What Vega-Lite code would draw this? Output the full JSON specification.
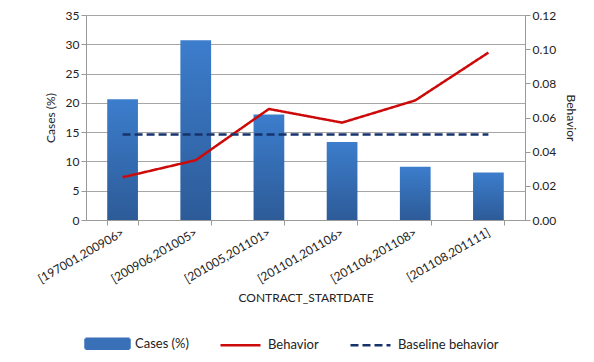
{
  "$schema": "https://vega.github.io/schema/vega-lite/v6.json",
  "width": 439,
  "height": 205,
  "autosize": {"type": "none"},
  "padding": {"left": 86, "top": 15, "right": 69, "bottom": 142},
  "background": "white",
  "config": {
    "font": "Lato",
    "view": {"stroke": null},
    "axis": {"labelFont": "Lato", "titleFont": "Lato", "labelColor": "#222", "titleColor": "#222", "labelFontSize": 12, "titleFontSize": 12, "titleFontWeight": "normal", "domainColor": "#9a9a9a", "tickColor": "#9a9a9a", "gridColor": "#a6a6a6"},
    "legend": {"labelFont": "Lato", "labelFontSize": 13, "labelColor": "#222"}
  },
  "data": {
    "values": [
      {"period": "[197001,200906>", "cases": 20.6, "Behavior": 0.025, "Baseline behavior": 0.05, "series": "Cases (%)"},
      {"period": "[200906,201005>", "cases": 30.7, "Behavior": 0.035, "Baseline behavior": 0.05, "series": "Cases (%)"},
      {"period": "[201005,201101>", "cases": 18.0, "Behavior": 0.065, "Baseline behavior": 0.05, "series": "Cases (%)"},
      {"period": "[201101,201106>", "cases": 13.3, "Behavior": 0.057, "Baseline behavior": 0.05, "series": "Cases (%)"},
      {"period": "[201106,201108>", "cases": 9.1, "Behavior": 0.070, "Baseline behavior": 0.05, "series": "Cases (%)"},
      {"period": "[201108,201111]", "cases": 8.1, "Behavior": 0.098, "Baseline behavior": 0.05, "series": "Cases (%)"}
    ]
  },
  "encoding": {
    "x": {
      "field": "period", "type": "nominal", "sort": null,
      "scale": {"paddingInner": 0.58, "paddingOuter": 0.29},
      "axis": {"title": "CONTRACT_STARTDATE", "labelAngle": -30, "labelAlign": "right", "labelBaseline": "middle", "labelPadding": 6, "tickBand": "extent", "tickSize": 5, "titlePadding": 8, "grid": false}
    }
  },
  "layer": [
    {
      "mark": {
        "type": "bar", "filled": false, "strokeWidth": 0,
        "fill": {"gradient": "linear", "x1": 0, "y1": 0, "x2": 0, "y2": 1, "stops": [{"offset": 0, "color": "#3c7dcc"}, {"offset": 1, "color": "#2d5b98"}]}
      },
      "encoding": {
        "y": {
          "field": "cases", "type": "quantitative",
          "scale": {"domain": [0, 35]},
          "axis": {"title": "Cases (%)", "values": [0, 5, 10, 15, 20, 25, 30, 35], "grid": true, "tickSize": 5, "titlePadding": 8}
        },
        "color": {
          "field": "series", "type": "nominal",
          "scale": {"domain": ["Cases (%)", "Behavior", "Baseline behavior"], "range": ["#3a70b8", "#cc0a0a", "#17336b"]},
          "legend": {
            "title": null, "orient": "bottom", "direction": "horizontal", "offset": 18,
            "symbolSize": 1600, "symbolStrokeWidth": 2.5, "columnPadding": 26, "labelOffset": 6,
            "encode": {
              "symbols": {
                "update": {
                  "shape": {"signal": "datum.value === 'Cases (%)' ? 'M-1.1,-0.25H1.1V0.25H-1.1Z' : 'stroke'"},
                  "fill": {"signal": "datum.value === 'Cases (%)' ? '#3a70b8' : 'transparent'"},
                  "stroke": {"signal": "datum.value === 'Cases (%)' ? 'transparent' : (datum.value === 'Behavior' ? '#cc0a0a' : '#17336b')"},
                  "strokeWidth": {"value": 2.5},
                  "strokeDash": {"signal": "datum.value === 'Baseline behavior' ? [8, 4] : [1, 0]"},
                  "opacity": {"value": 1}
                }
              }
            }
          }
        }
      }
    },
    {
      "transform": [{"fold": ["Behavior", "Baseline behavior"], "as": ["key", "value"]}],
      "mark": {"type": "line", "strokeWidth": 2.5},
      "encoding": {
        "y": {
          "field": "value", "type": "quantitative",
          "scale": {"domain": [0, 0.12]},
          "axis": {"title": "Behavior", "orient": "right", "values": [0, 0.02, 0.04, 0.06, 0.08, 0.1, 0.12], "format": ".2f", "grid": false, "tickSize": 5, "titleAngle": 90, "titlePadding": 8}
        },
        "color": {
          "field": "key", "type": "nominal",
          "scale": {"domain": ["Cases (%)", "Behavior", "Baseline behavior"], "range": ["#3a70b8", "#cc0a0a", "#17336b"]},
          "legend": {
            "title": null, "orient": "bottom", "direction": "horizontal", "offset": 18,
            "symbolSize": 1600, "symbolStrokeWidth": 2.5, "columnPadding": 26, "labelOffset": 6,
            "encode": {
              "symbols": {
                "update": {
                  "shape": {"signal": "datum.value === 'Cases (%)' ? 'M-1.1,-0.25H1.1V0.25H-1.1Z' : 'stroke'"},
                  "fill": {"signal": "datum.value === 'Cases (%)' ? '#3a70b8' : 'transparent'"},
                  "stroke": {"signal": "datum.value === 'Cases (%)' ? 'transparent' : (datum.value === 'Behavior' ? '#cc0a0a' : '#17336b')"},
                  "strokeWidth": {"value": 2.5},
                  "strokeDash": {"signal": "datum.value === 'Baseline behavior' ? [8, 4] : [1, 0]"},
                  "opacity": {"value": 1}
                }
              }
            }
          }
        },
        "strokeDash": {
          "field": "key", "type": "nominal",
          "scale": {"domain": ["Behavior", "Baseline behavior"], "range": [[1, 0], [8, 4]]},
          "legend": null
        }
      }
    }
  ],
  "resolve": {"scale": {"y": "independent"}}
}
